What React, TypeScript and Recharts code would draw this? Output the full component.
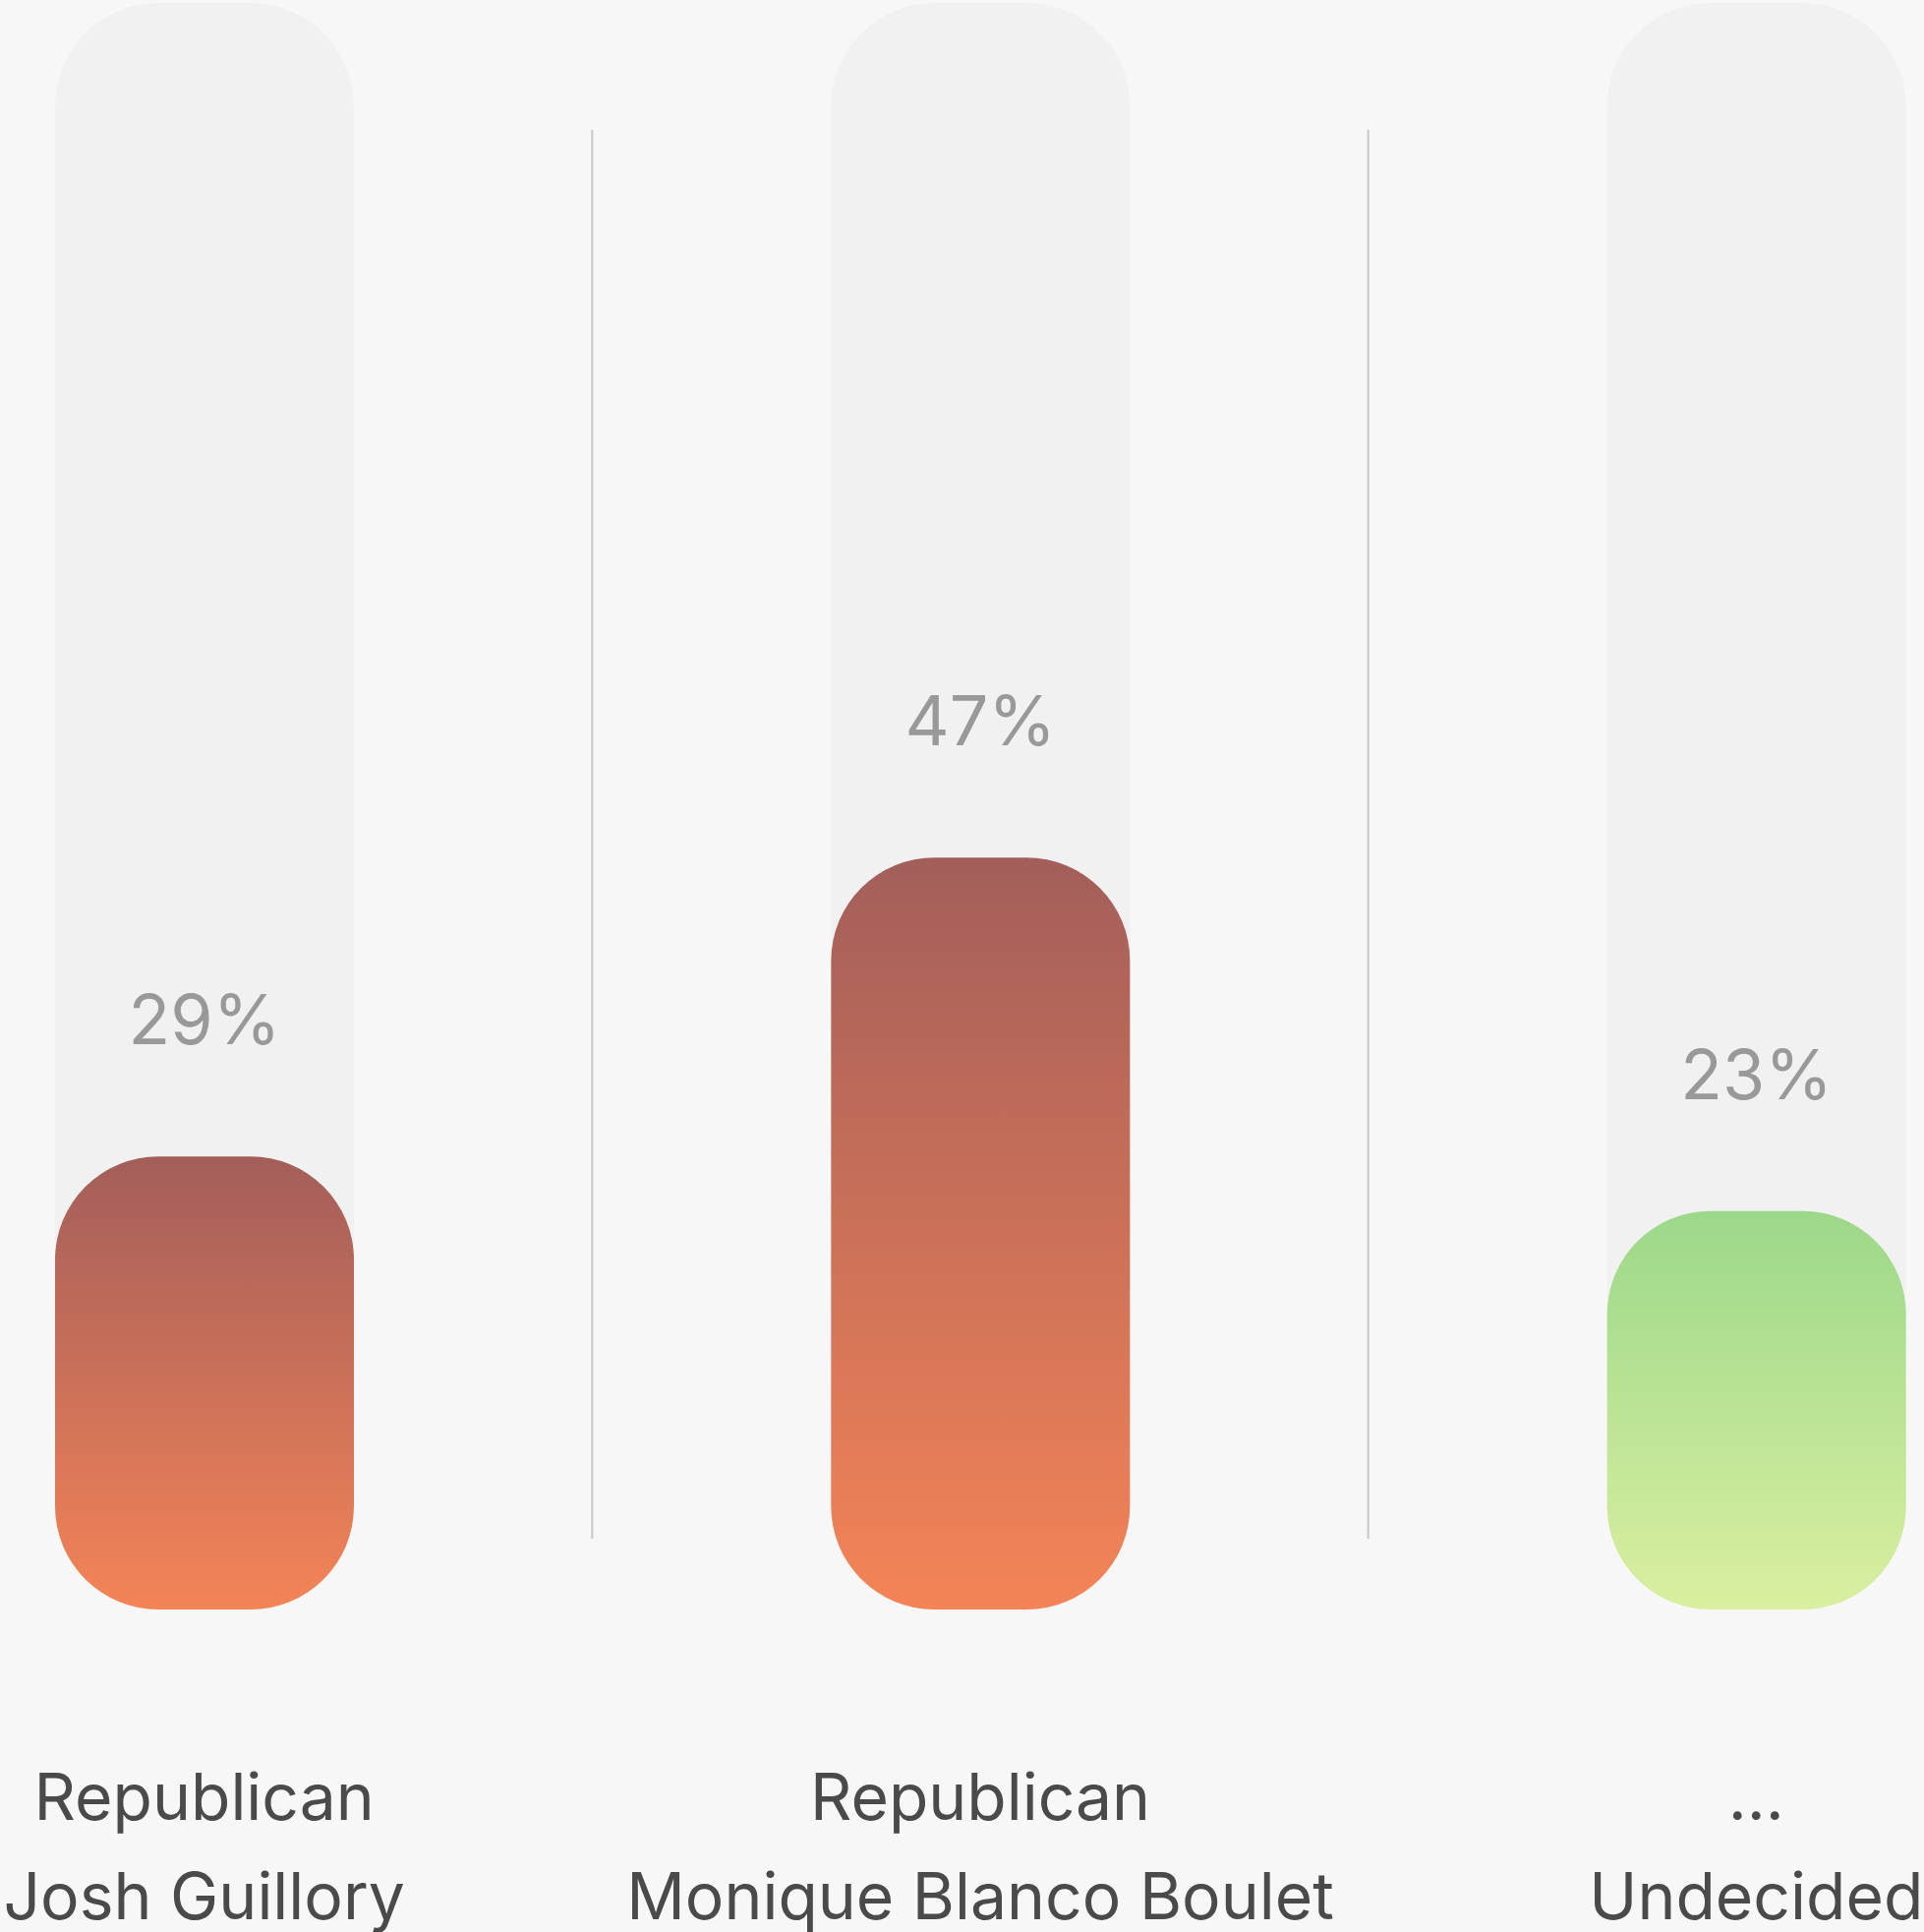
import { BarChart, Bar, XAxis, YAxis, Cell, LabelList, ReferenceLine } from 'recharts';

// poll shares as printed above each bar
const shares = [29, 47, 23];
// bar fill levels (0–100 scale)
const barLevels = [28.2, 46.8, 24.8];
const parties = ['Republican', 'Republican', '...'];
const candidates = ['Josh Guillory', 'Monique Blanco Boulet', 'Undecided'];
const gradients = ['url(#redFill)', 'url(#redFill)', 'url(#greenFill)'];

// vertical extent of the separators between categories, in axis units
const separatorSpan = [4.4, 92.1];

const FONT = 'Inter, "Noto Sans", sans-serif';

const rows = candidates.map((name, i) => ({
    name,
    level: barLevels[i],
}));

// eslint-disable-next-line @typescript-eslint/no-explicit-any
const NameTick = (props: any) => {
    const { x, y, index } = props;
    return (
        <g>
            <text x={x} y={y + 214} textAnchor="middle" fill="#4a4a4a" style={{ fontFamily: FONT, fontSize: 66 }}>
                {parties[index]}
            </text>
            <text x={x} y={y + 315} textAnchor="middle" fill="#4a4a4a" style={{ fontFamily: FONT, fontSize: 66 }}>
                {candidates[index]}
            </text>
        </g>
    );
};

// eslint-disable-next-line @typescript-eslint/no-explicit-any
const renderShare = (props: any) => {
    const { x, y, width, index } = props;
    return (
        <text
            x={x + width / 2}
            y={y - 114}
            textAnchor="middle"
            fill="#999999"
            style={{ fontFamily: FONT, fontSize: 70 }}
        >
            {`${shares[index]}%`}
        </text>
    );
};

export default function App() {
    return (
        <div
            style={{
                position: 'absolute',
                top: 0,
                left: 0,
                width: 1957,
                height: 1965,
                overflow: 'hidden',
                background: '#f7f7f7',
            }}
        >
            <div style={{ position: 'absolute', left: -187, top: 0 }}>
                <BarChart width={2368} height={1965} data={rows} margin={{ top: 3, right: 0, bottom: 0, left: 0 }}>
                    <defs>
                        <linearGradient id="redFill" x1="0" y1="0" x2="0" y2="1">
                            <stop offset="0%" stopColor="#a35e5a" />
                            <stop offset="100%" stopColor="#f48457" />
                        </linearGradient>
                        <linearGradient id="greenFill" x1="0" y1="0" x2="0" y2="1">
                            <stop offset="0%" stopColor="#9cd88a" />
                            <stop offset="100%" stopColor="#daefa0" />
                        </linearGradient>
                    </defs>
                    <XAxis
                        dataKey="name"
                        height={328}
                        axisLine={false}
                        tickLine={false}
                        tickSize={0}
                        tickMargin={0}
                        interval={0}
                        tick={<NameTick />}
                    />
                    <YAxis domain={[0, 100]} hide />
                    {candidates.slice(1).map((name) => (
                        <ReferenceLine
                            key={name}
                            position="start"
                            segment={[
                                { x: name, y: separatorSpan[0] },
                                { x: name, y: separatorSpan[1] },
                            ]}
                            stroke="#c8c8c8"
                            strokeWidth={2}
                        />
                    ))}
                    <Bar
                        dataKey="level"
                        barSize={304}
                        radius={105}
                        background={{ fill: '#f1f1f1', radius: 105 }}
                        isAnimationActive={false}
                    >
                        {rows.map((_, i) => (
                            <Cell key={`cell-${i}`} fill={gradients[i]} />
                        ))}
                        <LabelList dataKey="level" content={renderShare} />
                    </Bar>
                </BarChart>
            </div>
        </div>
    );
}
